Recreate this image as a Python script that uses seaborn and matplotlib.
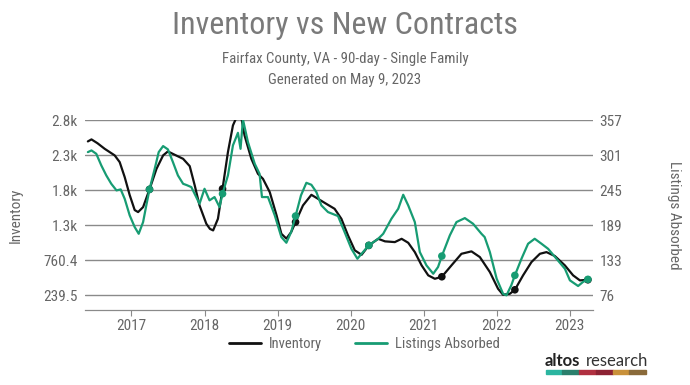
import numpy as np
import pandas as pd
import matplotlib
matplotlib.use("Agg")
import matplotlib.pyplot as plt
import matplotlib.dates as mdates
from matplotlib.lines import Line2D
from matplotlib.patches import Rectangle
import seaborn as sns

# values
inv_dates = ["2016-05-28", "2016-06-15", "2016-07-15", "2016-08-20", "2016-10-09", "2016-11-03",
             "2016-11-28", "2016-12-23", "2017-01-17", "2017-02-03", "2017-02-28", "2017-04-01",
             "2017-05-06", "2017-06-08", "2017-07-02", "2017-08-05", "2017-09-16", "2017-10-19",
             "2017-11-13", "2017-12-07", "2018-01-10", "2018-01-28", "2018-02-13", "2018-03-09",
             "2018-04-01", "2018-04-28", "2018-05-23", "2018-06-09", "2018-06-22", "2018-07-04",
             "2018-07-20", "2018-08-23", "2018-09-25", "2018-10-20", "2018-11-23", "2018-12-27",
             "2019-01-20", "2019-02-14", "2019-03-10", "2019-04-01", "2019-05-08", "2019-06-19",
             "2019-07-22", "2019-08-24", "2019-10-13", "2019-11-16", "2019-12-19", "2020-01-22",
             "2020-02-25", "2020-04-01", "2020-05-18", "2020-06-21", "2020-08-09", "2020-09-12",
             "2020-10-15", "2020-11-17", "2020-12-21", "2021-01-23", "2021-02-25", "2021-04-01",
             "2021-05-19", "2021-07-08", "2021-08-27", "2021-10-08", "2021-11-27", "2022-01-07",
             "2022-02-01", "2022-03-07", "2022-04-01", "2022-05-12", "2022-06-23", "2022-08-04",
             "2022-09-06", "2022-10-18", "2022-12-07", "2023-01-17", "2023-02-20", "2023-04-01"]
inv_values = [2527, 2557, 2500, 2417, 2319, 2219,
              1996, 1728, 1505, 1475, 1549, 1813,
              2119, 2319, 2378, 2328, 2268, 2159,
              1872, 1574, 1301, 1225, 1202, 1375,
              1822, 2368, 2765, 2880, 2900, 2880,
              2616, 2268, 2045, 1970, 1772, 1426,
              1152, 1080, 1177, 1326, 1574, 1732,
              1673, 1613, 1524, 1375, 1128, 905,
              839, 979, 1077, 1039, 1028, 1077,
              1018, 879, 681, 533, 482, 512,
              681, 854, 890, 805, 582, 333,
              244, 259, 318, 533, 731, 854,
              879, 820, 681, 533, 458, 467]

abs_dates = ["2016-05-28", "2016-06-15", "2016-07-09", "2016-08-03", "2016-08-28", "2016-09-22",
             "2016-10-18", "2016-11-08", "2016-11-28", "2016-12-23", "2017-01-17", "2017-02-06",
             "2017-02-28", "2017-03-16", "2017-04-01", "2017-04-27", "2017-05-17", "2017-06-08",
             "2017-07-02", "2017-07-27", "2017-08-21", "2017-09-16", "2017-10-04", "2017-10-27",
             "2017-12-07", "2018-01-01", "2018-01-26", "2018-02-20", "2018-03-17", "2018-04-01",
             "2018-04-28", "2018-05-23", "2018-06-17", "2018-06-30", "2018-07-12", "2018-08-06",
             "2018-09-09", "2018-10-03", "2018-10-15", "2018-11-14", "2018-12-18", "2019-01-20",
             "2019-02-14", "2019-03-10", "2019-04-01", "2019-04-28", "2019-05-25", "2019-06-19",
             "2019-07-14", "2019-08-08", "2019-09-10", "2019-10-30", "2019-12-02", "2020-01-05",
             "2020-02-04", "2020-03-03", "2020-04-01", "2020-05-18", "2020-06-12", "2020-07-23",
             "2020-08-26", "2020-09-20", "2020-10-15", "2020-11-17", "2020-12-12", "2021-01-14",
             "2021-02-17", "2021-03-13", "2021-04-01", "2021-05-11", "2021-06-13", "2021-07-25",
             "2021-09-04", "2021-10-16", "2021-11-01", "2021-11-27", "2021-12-31", "2022-02-01",
             "2022-02-18", "2022-03-14", "2022-04-01", "2022-05-04", "2022-06-06", "2022-07-09",
             "2022-08-12", "2022-09-14", "2022-10-26", "2022-12-07", "2023-01-01", "2023-02-11",
             "2023-03-07", "2023-04-01"]
abs_values = [305.6, 308.3, 302.9, 284.3, 268.2, 254.7,
              244.1, 245.7, 230.6, 204.0, 185.2, 174.4,
              193.2, 220.0, 245.7, 278.8, 305.6, 315.3,
              310.0, 289.6, 268.2, 254.7, 252.6, 249.4,
              222.6, 246.7, 228.1, 233.4, 217.3, 238.7,
              268.2, 316.4, 336.6, 310.9, 358.0, 321.7,
              286.8, 270.8, 233.4, 233.4, 204.0, 169.1,
              160.0, 177.2, 202.9, 236.1, 256.3, 253.1,
              241.4, 220.0, 209.3, 202.9, 177.2, 150.3,
              134.3, 145.0, 155.8, 166.4, 174.4, 198.5,
              214.6, 237.1, 220.0, 193.2, 145.0, 123.7,
              110.2, 121.0, 138.6, 171.9, 193.2, 199.6,
              190.5, 174.4, 169.1, 145.0, 102.2, 78.1,
              75.5, 91.6, 107.6, 134.3, 158.4, 166.4,
              158.4, 150.3, 134.3, 118.2, 99.6, 90.5,
              96.9, 101.2]

inv_ticks = [239.5, 760.4, 1281.3, 1802.2, 2323.1, 2844]
inv_tick_labels = ["239.5", "760.4", "1.3k", "1.8k", "2.3k", "2.8k"]
abs_ticks = [76, 132.2, 188.4, 244.6, 300.8, 357]
abs_tick_labels = ["76", "133", "189", "245", "301", "357"]

BLACK = "#111111"
GREEN = "#179c73"
GREY = "#666666"

sns.set_style("white")
plt.rcParams["font.family"] = ["Liberation Sans Narrow", "Roboto Condensed", "DejaVu Sans"]

inv = pd.DataFrame({"date": pd.to_datetime(inv_dates), "value": inv_values})
absorbed = pd.DataFrame({"date": pd.to_datetime(abs_dates), "value": abs_values})

fig = plt.figure(figsize=(6.9, 3.85), dpi=100)
ax = fig.add_axes([0.123, 0.196, 0.736, 0.492])
ax2 = ax.twinx()

sns.lineplot(data=inv, x="date", y="value", ax=ax, color=BLACK, lw=1.6)
sns.lineplot(data=absorbed, x="date", y="value", ax=ax2, color=GREEN, lw=1.6)

# yearly markers in April
inv_marks = inv[(inv["date"].dt.month == 4) & (inv["date"].dt.day == 1)]
abs_marks = absorbed[(absorbed["date"].dt.month == 4) & (absorbed["date"].dt.day == 1)]
sns.scatterplot(data=inv_marks, x="date", y="value", ax=ax, color=BLACK, s=30,
                edgecolor="none", zorder=5)
sns.scatterplot(data=abs_marks, x="date", y="value", ax=ax2, color=GREEN, s=30,
                edgecolor="none", zorder=5)

ax.set_xlim(pd.Timestamp("2016-05-13"), pd.Timestamp("2023-04-25"))
ax.set_ylim(24, 2844)
ax2.set_ylim(52.7, 357)

ax.set_yticks(inv_ticks)
ax.set_yticklabels(inv_tick_labels)
ax2.set_yticks(abs_ticks)
ax2.set_yticklabels(abs_tick_labels)

ax.xaxis.set_major_locator(mdates.YearLocator())
ax.xaxis.set_major_formatter(mdates.DateFormatter("%Y"))

ax.grid(axis="y", color="#8a8a8a", lw=1)
ax.set_axisbelow(True)
for a in (ax, ax2):
    for side in ("left", "right", "top"):
        a.spines[side].set_visible(False)
    a.spines["bottom"].set_color("#8a8a8a")
    a.set_xlabel("")

ax.tick_params(axis="y", length=0, labelsize=11, labelcolor=GREY, pad=5)
ax2.tick_params(axis="y", length=0, labelsize=11, labelcolor=GREY, pad=5)
ax.tick_params(axis="x", bottom=True, length=4, color="#8a8a8a", labelsize=11,
               labelcolor=GREY, pad=3)

ax.set_ylabel("Inventory", color=GREY, fontsize=11, labelpad=15)
ax2.set_ylabel("Listings Absorbed", color=GREY, fontsize=11, rotation=270, labelpad=42)

fig.text(0.5, 0.935, "Inventory vs New Contracts", ha="center", va="center",
         fontsize=23, color="#7a7a7a")
fig.text(0.5, 0.848, "Fairfax County, VA - 90-day - Single Family", ha="center",
         va="center", fontsize=10.7, color=GREY)
fig.text(0.5, 0.793, "Generated on May 9, 2023", ha="center", va="center",
         fontsize=10.7, color=GREY)

handles = [Line2D([], [], color=BLACK, lw=2), Line2D([], [], color=GREEN, lw=2)]
fig.legend(handles, ["Inventory", "Listings Absorbed"], loc="center",
           bbox_to_anchor=(0.528, 0.107), ncol=2, frameon=False, fontsize=10.5,
           labelcolor=GREY, handlelength=2.2, handletextpad=0.5, columnspacing=2.3)

# altos research logo
fig.text(0.790, 0.062, "altos", fontsize=12, fontweight="bold", color="#222222",
         ha="left", va="center", family=["Lato", "DejaVu Sans"])
fig.text(0.849, 0.062, "research", fontsize=12, color="#333333",
         ha="left", va="center", family=["Lato", "DejaVu Sans"])
logo_cols = ["#2bb5a0", "#2a7f6c", "#b03040", "#8c2233", "#c9913a", "#8a6a3a"]
x0, w = 0.791, 0.0242
for i, c in enumerate(logo_cols):
    fig.add_artist(Rectangle((x0 + i * w, 0.028), w, 0.011, color=c,
                             transform=fig.transFigure))

fig.savefig("out.png", dpi=100)
